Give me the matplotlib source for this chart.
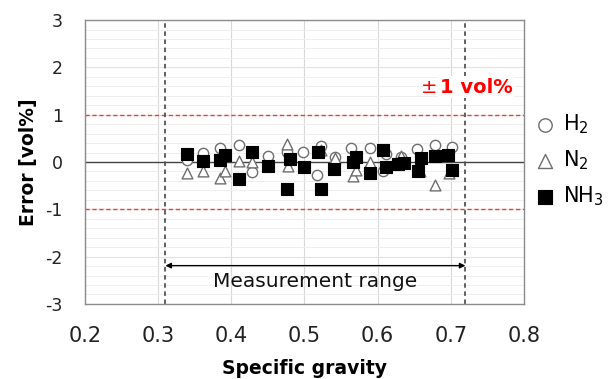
import matplotlib
matplotlib.use("Agg")
import matplotlib.pyplot as plt
import numpy as np

plt.rcParams['font.family'] = ['DejaVu Sans']
plt.rcParams['axes.unicode_minus'] = False

# H2 (open circles)
h2_x = [0.340, 0.362, 0.385, 0.410, 0.428, 0.450, 0.476, 0.498, 0.517, 0.523,
        0.542, 0.564, 0.590, 0.607, 0.612, 0.632, 0.654, 0.678, 0.701]
h2_y = [0.05, 0.19, 0.30, 0.37, -0.21, 0.12, 0.21, 0.21, -0.28, 0.33,
        0.10, 0.29, 0.29, -0.18, 0.16, 0.10, 0.28, 0.36, 0.32]

# N2 (open triangles)
n2_x = [0.340, 0.362, 0.385, 0.391, 0.410, 0.428, 0.476, 0.478, 0.523, 0.542,
        0.566, 0.570, 0.590, 0.632, 0.658, 0.678, 0.698]
n2_y = [-0.23, -0.18, -0.33, -0.19, 0.02, 0.00, 0.39, -0.09, 0.25, 0.08,
        -0.30, -0.16, 0.00, 0.12, -0.18, -0.48, -0.23]

# NH3 (filled squares)
nh3_x = [0.340, 0.362, 0.385, 0.391, 0.410, 0.428, 0.450, 0.476, 0.480, 0.499,
         0.518, 0.523, 0.541, 0.566, 0.571, 0.589, 0.607, 0.612, 0.628, 0.636,
         0.655, 0.659, 0.678, 0.696, 0.702]
nh3_y = [0.18, 0.02, 0.05, 0.14, -0.36, 0.22, -0.09, -0.56, 0.07, -0.11,
         0.22, -0.58, -0.14, 0.00, 0.10, -0.24, 0.25, -0.11, -0.05, -0.02,
         -0.19, 0.09, 0.12, 0.14, -0.16]

range_lo, range_hi = 0.31, 0.72

fig = plt.figure(figsize=(6.15, 3.79), dpi=100)
ax = fig.add_axes([0.138, 0.198, 0.714, 0.749])

ax.set_xlim(0.2, 0.8)
ax.set_ylim(-3, 3)
ax.set_xticks(np.arange(0.2, 0.81, 0.1))
ax.set_xticklabels(["0.2", "0.3", "0.4", "0.5", "0.6", "0.7", "0.8"])
ax.set_yticks(range(-3, 4))
ax.set_yticks(np.arange(-3, 3.01, 0.2), minor=True)

# grid
ax.grid(axis='x', which='major', color='#d9d9d9', lw=0.8)
ax.grid(axis='y', which='major', color='#e3e3e3', lw=0.8)
ax.grid(axis='y', which='minor', color='#efefef', lw=0.7)
ax.set_axisbelow(True)
ax.tick_params(which='both', length=0, colors='#222222')
ax.tick_params(axis='x', labelsize=15, pad=16)
ax.tick_params(axis='y', labelsize=12.5, pad=16)

for s in ax.spines.values():
    s.set_color('#8c8c8c')
    s.set_linewidth(1.0)

ax.axhline(0, color='#444444', lw=1.0, zorder=1)
ax.axhline(1, color='#f03a32', lw=1.0, ls=(0, (3, 2)), zorder=1)
ax.axhline(-1, color='#f03a32', lw=1.0, ls=(0, (3, 2)), zorder=1)
ax.axvline(range_lo, color='#555555', lw=1.3, ls=(0, (2.5, 2)), zorder=1)
ax.axvline(range_hi, color='#555555', lw=1.3, ls=(0, (2.5, 2)), zorder=1)

ax.scatter(h2_x, h2_y, marker='o', s=55, facecolors='white', edgecolors='#6e6e6e',
           linewidths=1.0, zorder=3, label='H$_2$')
ax.scatter(n2_x, n2_y, marker='^', s=60, facecolors='white', edgecolors='#6e6e6e',
           linewidths=1.0, zorder=3, label='N$_2$')
ax.scatter(nh3_x, nh3_y, marker='s', s=65, facecolors='black', edgecolors='black',
           linewidths=0.8, zorder=4, label='NH$_3$')

ax.annotate('', xy=(range_lo, -2.19), xytext=(range_hi, -2.19),
            arrowprops=dict(arrowstyle='<|-|>', color='black', lw=1.0,
                            mutation_scale=8, shrinkA=0, shrinkB=0))
ax.text((range_lo + range_hi) / 2, -2.53, 'Measurement range', ha='center',
        va='center', fontsize=14.5, color='#111111')

ax.text(0.685, 1.58, '1 vol%', ha='left', va='center', fontsize=14,
        color='#ff0000', fontweight='bold', zorder=5,
        bbox=dict(facecolor='white', edgecolor='none', pad=1))
ax.text(0.682, 1.58, '±', ha='right', va='center', fontsize=14,
        color='#ff0000', zorder=5)

ax.set_xlabel('Specific gravity', fontsize=13.5, fontweight='bold', labelpad=9)
ax.set_ylabel('Error [vol%]', fontsize=13.5, fontweight='bold', labelpad=5)

leg = ax.legend(loc='center left', bbox_to_anchor=(1.025, 0.507), frameon=False,
                fontsize=15, handletextpad=0.35, labelspacing=0.6,
                handlelength=1.0, borderaxespad=0, borderpad=0, markerscale=1.3)

fig.savefig('out.png', dpi=100)
